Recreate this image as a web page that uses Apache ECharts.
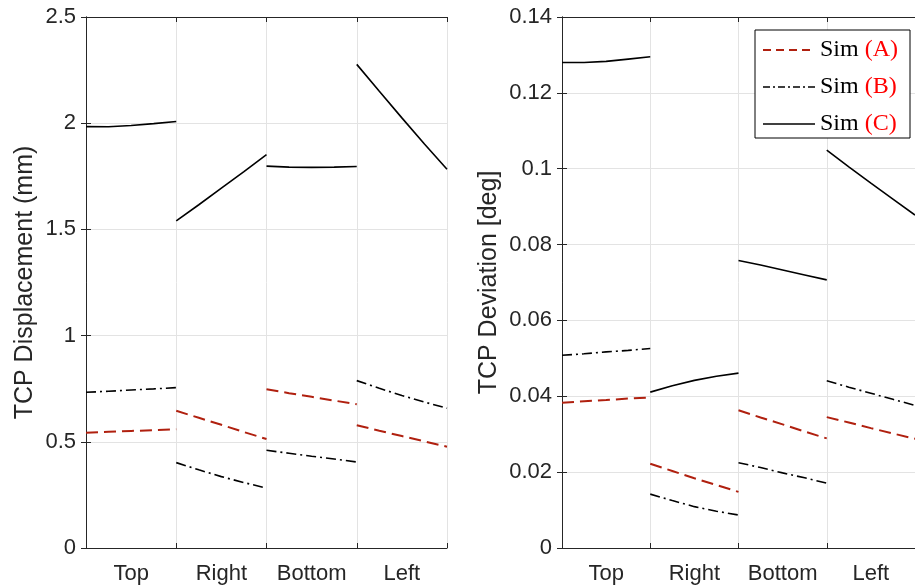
<!DOCTYPE html>
<html>
<head>
<meta charset="utf-8">
<script src="https://cdn.jsdelivr.net/npm/echarts@6/dist/echarts.min.js"></script>
<style>
html,body{margin:0;padding:0;background:#fff;}
#chart{width:915px;height:588px;}
</style>
</head>
<body>
<div id="chart"></div>
<script>
// ---- data ----
var categories = ['Top', 'Right', 'Bottom', 'Left'];
var samplePos = [0, 0.25, 0.5, 0.75, 1];   // position of samples inside each category
var seriesNames = ['Sim (A)', 'Sim (B)', 'Sim (C)'];

// Left panel: TCP Displacement (mm)
var dispA = [[0.543, 0.547, 0.551, 0.555, 0.559],
             [0.646, 0.613, 0.580, 0.546, 0.513],
             [0.747, 0.729, 0.712, 0.694, 0.677],
             [0.578, 0.552, 0.527, 0.502, 0.477]];
var dispB = [[0.733, 0.738, 0.744, 0.749, 0.755],
             [0.402, 0.368, 0.336, 0.308, 0.282],
             [0.460, 0.446, 0.432, 0.419, 0.405],
             [0.788, 0.752, 0.718, 0.687, 0.658]];
var dispC = [[1.984, 1.983, 1.989, 1.998, 2.008],
             [1.540, 1.616, 1.694, 1.772, 1.852],
             [1.798, 1.793, 1.792, 1.793, 1.796],
             [2.277, 2.150, 2.025, 1.902, 1.783]];

// Right panel: TCP Deviation [deg]
var devA = [[0.0383, 0.0387, 0.0390, 0.0394, 0.0397],
            [0.0222, 0.0203, 0.0184, 0.0166, 0.0148],
            [0.0363, 0.0344, 0.0326, 0.0307, 0.0289],
            [0.0345, 0.0331, 0.0316, 0.0302, 0.0288]];
var devB = [[0.0508, 0.0512, 0.0517, 0.0521, 0.0526],
            [0.0142, 0.0125, 0.0109, 0.0097, 0.0087],
            [0.0225, 0.0212, 0.0198, 0.0185, 0.0171],
            [0.0441, 0.0424, 0.0408, 0.0392, 0.0376]];
var devC = [[0.1280, 0.1280, 0.1283, 0.1289, 0.1295],
            [0.0411, 0.0428, 0.0442, 0.0453, 0.0461],
            [0.0758, 0.0746, 0.0733, 0.0720, 0.0707],
            [0.1049, 0.1005, 0.0962, 0.0920, 0.0878]];

var leftYTicks = {min: 0, max: 2.5, interval: 0.5};
var rightYTicks = {min: 0, max: 0.14, interval: 0.02};

// ---- build ----
function toSegments(arr) {
  var out = [];
  arr.forEach(function (seg, ci) {
    if (ci > 0) out.push([ci, '-']);
    seg.forEach(function (v, k) { out.push([ci + samplePos[k], v]); });
  });
  return out;
}

var AX = '#262626', GRIDC = '#e3e3e3', RED = '#b0200f';
var FONT = '"Liberation Sans", Arial, Helvetica, sans-serif';
var SERIF = '"Liberation Serif", "DejaVu Serif", serif';

var grids = [
  {left: 86, top: 17, width: 361, height: 531},
  {left: 562, top: 17, width: 361, height: 531}
];

var xAxes = [], yAxes = [];
[0, 1].forEach(function (g) {
  xAxes.push({type: 'value', gridIndex: g, min: 0, max: categories.length, interval: 1, position: 'bottom',
    axisLine: {show: true, lineStyle: {color: AX, width: 1}},
    axisTick: {show: true, inside: true, length: 5, lineStyle: {color: AX}},
    axisLabel: {show: false},
    splitLine: {show: true, lineStyle: {color: GRIDC, width: 1}}});
  xAxes.push({type: 'category', gridIndex: g, data: categories, boundaryGap: true, position: 'bottom',
    axisLine: {show: false}, axisTick: {show: false}, splitLine: {show: false},
    axisLabel: {show: true, interval: 0, color: AX, fontSize: 22, fontFamily: FONT, margin: 15}});
  xAxes.push({type: 'value', gridIndex: g, min: 0, max: categories.length, interval: 1, position: 'top',
    axisLine: {show: true, lineStyle: {color: AX, width: 1}},
    axisTick: {show: true, inside: true, length: 5, lineStyle: {color: AX}},
    axisLabel: {show: false}, splitLine: {show: false}});
});

yAxes.push({type: 'value', gridIndex: 0, min: leftYTicks.min, max: leftYTicks.max, interval: leftYTicks.interval,
  position: 'left', name: 'TCP Displacement (mm)', nameLocation: 'middle', nameGap: 48,
  nameTextStyle: {color: AX, fontSize: 25, fontFamily: FONT},
  axisLine: {show: true, lineStyle: {color: AX}},
  axisTick: {show: true, inside: true, length: 5, lineStyle: {color: AX}},
  axisLabel: {color: AX, fontSize: 22, fontFamily: FONT, margin: 10},
  splitLine: {show: true, lineStyle: {color: GRIDC}}});
yAxes.push({type: 'value', gridIndex: 0, min: leftYTicks.min, max: leftYTicks.max, interval: leftYTicks.interval,
  position: 'right',
  axisLine: {show: true, lineStyle: {color: AX}},
  axisTick: {show: true, inside: true, length: 5, lineStyle: {color: AX}},
  axisLabel: {show: false}, splitLine: {show: false}});
yAxes.push({type: 'value', gridIndex: 1, min: rightYTicks.min, max: rightYTicks.max, interval: rightYTicks.interval,
  position: 'left', name: 'TCP Deviation [deg]', nameLocation: 'middle', nameGap: 60,
  nameTextStyle: {color: AX, fontSize: 25, fontFamily: FONT},
  axisLine: {show: true, lineStyle: {color: AX}},
  axisTick: {show: true, inside: true, length: 5, lineStyle: {color: AX}},
  axisLabel: {color: AX, fontSize: 22, fontFamily: FONT, margin: 10},
  splitLine: {show: true, lineStyle: {color: GRIDC}}});
yAxes.push({type: 'value', gridIndex: 1, min: rightYTicks.min, max: rightYTicks.max, interval: rightYTicks.interval,
  position: 'right',
  axisLine: {show: true, lineStyle: {color: AX}},
  axisTick: {show: true, inside: true, length: 5, lineStyle: {color: AX}},
  axisLabel: {show: false}, splitLine: {show: false}});

var styles = [
  {color: RED, width: 2, type: [12, 6]},
  {color: '#000', width: 1.6, type: [10, 4, 2, 4]},
  {color: '#000', width: 1.6, type: 'solid'}
];
var legendDash = [[8, 5], [7, 3, 2, 3], 'solid'];
var panelData = [[dispA, dispB, dispC], [devA, devB, devC]];
var series = [];
panelData.forEach(function (pd, g) {
  pd.forEach(function (arr, si) {
    series.push({
      type: 'line', name: seriesNames[si], xAxisIndex: g * 3, yAxisIndex: g * 2,
      data: toSegments(arr), showSymbol: false, symbol: 'none', connectNulls: false,
      lineStyle: styles[si], itemStyle: {color: styles[si].color},
      emphasis: {disabled: true}, animation: false, z: 3
    });
  });
});

var chart = echarts.init(document.getElementById('chart'), null, {renderer: 'canvas'});
chart.setOption({
  animation: false,
  backgroundColor: '#fff',
  grid: grids,
  xAxis: xAxes,
  yAxis: yAxes,
  legend: {
    data: seriesNames.map(function (n, i) {
      return {name: n, lineStyle: {type: legendDash[i], width: styles[i].width, color: styles[i].color}};
    }),
    orient: 'vertical', left: 755, top: 30,
    backgroundColor: '#fff', borderColor: '#000', borderWidth: 1,
    padding: [8, 12, 2, 7], itemGap: 13, itemWidth: 52, itemHeight: 14,
    selectedMode: false,
    itemStyle: {color: 'rgba(0,0,0,0)', borderWidth: 0, opacity: 0},
    formatter: function (name) {
      var m = name.match(/^(\S+)\s+(.*)$/);
      return '{s|' + m[1] + '} {r|' + m[2] + '}';
    },
    textStyle: {fontFamily: SERIF, fontSize: 24, color: '#000',
      rich: {s: {fontFamily: SERIF, fontSize: 24, color: '#000'},
             r: {fontFamily: SERIF, fontSize: 24, color: '#ff0000'}}}
  },
  series: series
});
</script>
</body>
</html>
